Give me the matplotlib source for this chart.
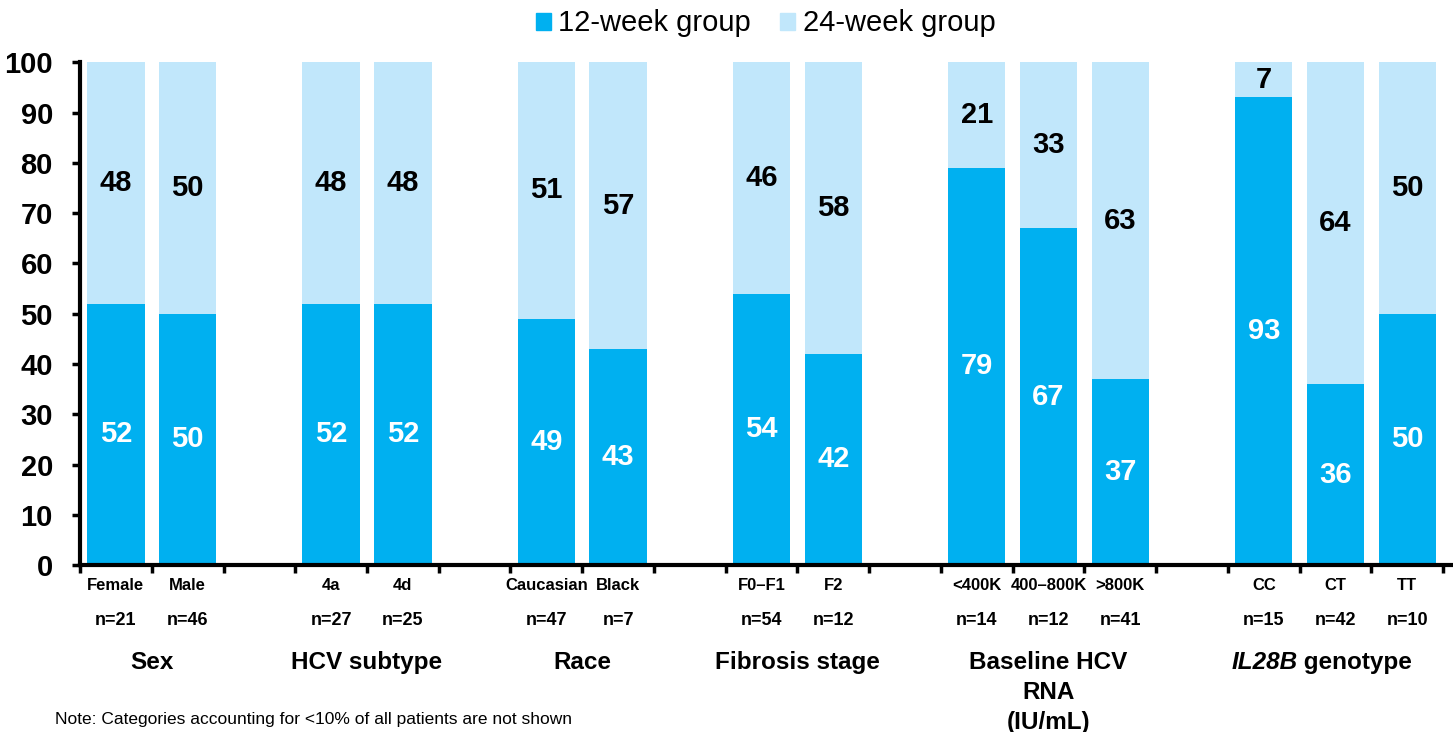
import matplotlib
matplotlib.use('Agg')
import matplotlib.pyplot as plt
from matplotlib.patches import Patch
from matplotlib.transforms import blended_transform_factory, offset_copy

plt.rcParams['font.family'] = ['Liberation Sans', 'DejaVu Sans']

#Data
cats = ['Female', 'Male', '4a', '4d', 'Caucasian', 'Black', 'F0–F1', 'F2',
        '<400K', '400–800K', '>800K', 'CC', 'CT', 'TT']
n_pts = [21, 46, 27, 25, 47, 7, 54, 12, 14, 12, 41, 15, 42, 10]
wk12 = [52, 50, 52, 52, 49, 43, 54, 42, 79, 67, 37, 93, 36, 50]
wk24 = [48, 50, 48, 48, 51, 57, 46, 58, 21, 33, 63, 7, 64, 50]
groups = ['Sex', 'HCV subtype', 'Race', 'Fibrosis stage', 'Baseline HCV\nRNA\n(IU/mL)', 'genotype']
group_sizes = [2, 2, 2, 2, 3, 3]

dark = '#00B0F0'
light = '#C1E7FB'

#Positions with one empty slot between groups
pos = []
centers = []
x = 0
for g in group_sizes:
    gp = list(range(x, x + g))
    pos += gp
    centers.append(sum(gp) / len(gp))
    x += g + 1

fig = plt.figure(figsize=(14.53, 7.32), dpi=100)
ax = fig.add_axes([0.0551, 0.228, 0.945, 0.687])

ax.bar(pos, wk12, width=0.8, color=dark, zorder=2)
ax.bar(pos, wk24, width=0.8, bottom=wk12, color=light, zorder=2)

#Value labels
for p, a, b in zip(pos, wk12, wk24):
    ax.text(p, a / 2, str(a), ha='center', va='center', color='white',
            fontsize=21, fontweight='bold')
    ax.text(p, a + b / 2, str(b), ha='center', va='center', color='black',
            fontsize=21, fontweight='bold')

ax.set_ylim(0, 100)
ax.set_xlim(-0.5, 18.64)
ax.set_yticks(range(0, 101, 10))
ax.set_xticks([v - 0.5 for v in range(0, 20)])
ax.set_xticklabels([])
ax.tick_params(axis='y', labelsize=21, width=2.5, length=6, direction='out', pad=13.5)
ax.tick_params(axis='x', width=2.5, length=6, direction='out')
for lab in ax.get_yticklabels():
    lab.set_fontweight('bold')
for s in ['top', 'right']:
    ax.spines[s].set_visible(False)
for s in ['left', 'bottom']:
    ax.spines[s].set_linewidth(3)

#Labels below the axis
tr = blended_transform_factory(ax.transData, ax.transAxes)
for p, c, n in zip(pos, cats, n_pts):
    ax.text(p, -0.041, c, transform=tr, ha='center', va='center',
            fontsize=12, fontweight='bold')
    ax.text(p, -0.111, 'n=%d' % n, transform=tr, ha='center', va='center',
            fontsize=13, fontweight='bold')

for i, (c, g) in enumerate(zip(centers, groups)):
    if g == 'genotype':
        t1 = offset_copy(tr, fig=fig, x=-38, y=0, units='dots')
        ax.text(c, -0.171, 'IL28B', transform=t1, ha='right', va='top',
                fontsize=17.5, fontweight='bold', style='italic')
        ax.text(c, -0.171, ' genotype', transform=t1, ha='left', va='top',
                fontsize=17.5, fontweight='bold')
    else:
        ax.text(c, -0.171, g, transform=tr, ha='center', va='top',
                fontsize=17.5, fontweight='bold', linespacing=1.38)

#Legend
handles = [Patch(color=dark, label='12-week group'), Patch(color=light, label='24-week group')]
fig.legend(handles=handles, loc='upper center', bbox_to_anchor=(0.527, 1.023), ncol=2,
           frameon=False, fontsize=21, handlelength=0.52, handleheight=0.52,
           handletextpad=0.25, columnspacing=1.0)

fig.text(0.038, 0.017, 'Note: Categories accounting for <10% of all patients are not shown',
         fontsize=12.5, va='center')

fig.savefig('out.png', dpi=100)
